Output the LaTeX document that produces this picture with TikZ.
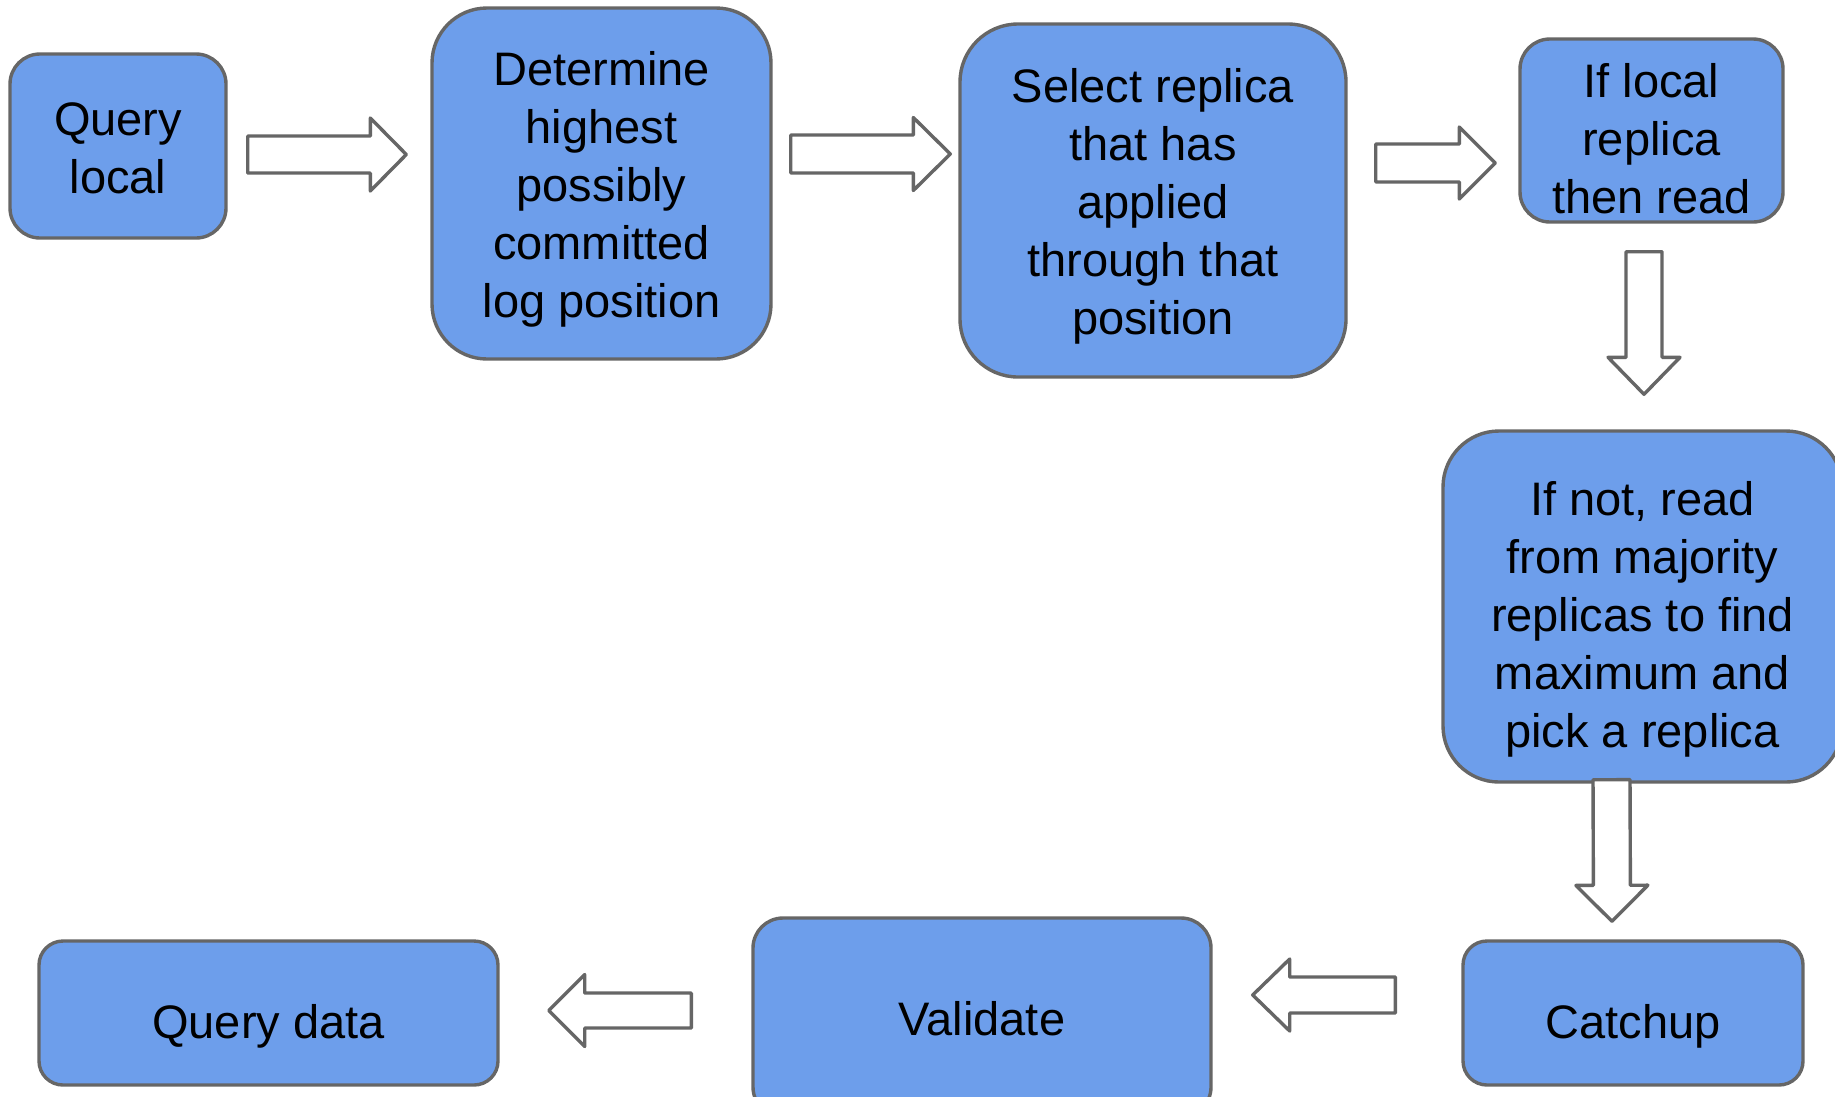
\documentclass[tikz,border=0pt]{standalone}
\usepackage{fontspec}
\setmainfont{Liberation Sans}
\usetikzlibrary{calc}
\definecolor{boxblue}{HTML}{6D9EEB}
\definecolor{edgegray}{HTML}{666666}
% step text: fixed line pitch, lines never pushed apart by the strut
\newcommand\stepfont{\fontsize{47}{58}\selectfont\lineskiplimit=-1000pt\relax}
\newcommand\ts{\rule[-10pt]{0pt}{56pt}}
% hollow block arrow from #1 to #2: head length #3, body half-width #4, head half-width #5
\newcommand\blockarrow[5]{%
  \coordinate (hb) at ($(#2)!#3!(#1)$);
  \draw[blockpath] ($(#1)!#4!90:(#2)$) -- ($(hb)!#4!90:(#2)$) -- ($(hb)!#5!90:(#2)$)
    -- (#2) -- ($(hb)!#5!-90:(#2)$) -- ($(hb)!#4!-90:(#2)$) -- ($(#1)!#4!-90:(#2)$) -- cycle;}
\begin{document}
\begin{tikzpicture}[x=1pt,y=-1pt,
  stepbox/.style={draw=edgegray, line width=3.4pt, fill=boxblue, inner sep=0pt},
  steptext/.style={font=\stepfont, align=center, inner sep=0pt, text=black},
  blockpath/.style={draw=edgegray, line width=3.4pt, fill=white, line join=round}]
\useasboundingbox (0,0) rectangle (1835,1096);
\clip (0,0) rectangle (1835,1096);

% process steps
\node[stepbox, minimum width=216, minimum height=184, rounded corners=30] (q1)  at (118,146) {};
\node[stepbox, minimum width=339, minimum height=351, rounded corners=55] (det) at (601.5,183.5) {};
\node[stepbox, minimum width=386, minimum height=353, rounded corners=58] (sel) at (1153,200.5) {};
\node[stepbox, minimum width=263, minimum height=183, rounded corners=30] (loc) at (1651.5,130.5) {};
\node[stepbox, minimum width=399, minimum height=351, rounded corners=56] (maj) at (1642.5,606.5) {};
\node[stepbox, minimum width=340, minimum height=144, rounded corners=24] (cat) at (1633,1013) {};
\node[stepbox, minimum width=458, minimum height=199, rounded corners=30] (val) at (982,1017.5) {};
\node[stepbox, minimum width=459, minimum height=144, rounded corners=24] (qd)  at (268.5,1013) {};

% step labels
\node[steptext] (q1-t)  at (q1)  {\ts Query\\local\ts};
\node[steptext] (det-t) at (det) {\ts Determine\\highest\\possibly\\committed\\log position\ts};
\node[steptext] (sel-t) at (sel) {\ts Select replica\\that has\\applied\\through that\\position\ts};
\node[steptext, yshift=-7pt] (loc-t) at (loc) {\ts If local\\replica\\then read\ts};
\node[steptext, yshift=-7pt] (maj-t) at (maj) {\ts If not, read\\from majority\\replicas to find\\maximum and\\pick a replica\ts};
\node[steptext, yshift=-7pt] (cat-t) at (cat) {\ts Catchup\ts};
\node[steptext] (val-t) at (val) {\ts Validate\ts};
\node[steptext, yshift=-7pt] (qd-t)  at (qd)  {\ts Query data\ts};

% arrow end points, tied to the steps they join
\coordinate (a1s) at ($(q1.east)+(20,8.5)$);    \coordinate (a1e) at ($(det.west)+(-24,-29)$);
\coordinate (a2s) at ($(det.east)+(18,-29.5)$); \coordinate (a2e) at ($(sel.west)+(-8,-46.5)$);
\coordinate (a3s) at ($(sel.east)+(28,-37.5)$); \coordinate (a3e) at ($(loc.west)+(-23,32.5)$);
\coordinate (a4s) at ($(loc.south)+(-7.5,28)$); \coordinate (a4e) at ($(maj.north)+(1.5,-35)$);
\coordinate (a5s) at ($(maj.south)+(-31,-4)$);  \coordinate (a5e) at ($(cat.north)+(-21,-18)$);
\coordinate (a6s) at ($(cat.west)+(-66,-18)$);  \coordinate (a6e) at ($(val.east)+(40,-22.5)$);
\coordinate (a7s) at ($(val.west)+(-60,-7)$);   \coordinate (a7e) at ($(qd.east)+(49,-2.5)$);

% flow arrows
\blockarrow{a1s}{a1e}{36pt}{18.5pt}{36.5pt}
\blockarrow{a2s}{a2e}{37pt}{19pt}{36.5pt}
\blockarrow{a3s}{a3e}{36pt}{19pt}{36pt}
\blockarrow{a4s}{a4e}{37pt}{18pt}{36pt}
\blockarrow{a5s}{a5e}{36pt}{18.5pt}{36pt}
\blockarrow{a6s}{a6e}{37pt}{18pt}{36pt}
\blockarrow{a7s}{a7e}{36pt}{17.5pt}{36pt}
\end{tikzpicture}
\end{document}
